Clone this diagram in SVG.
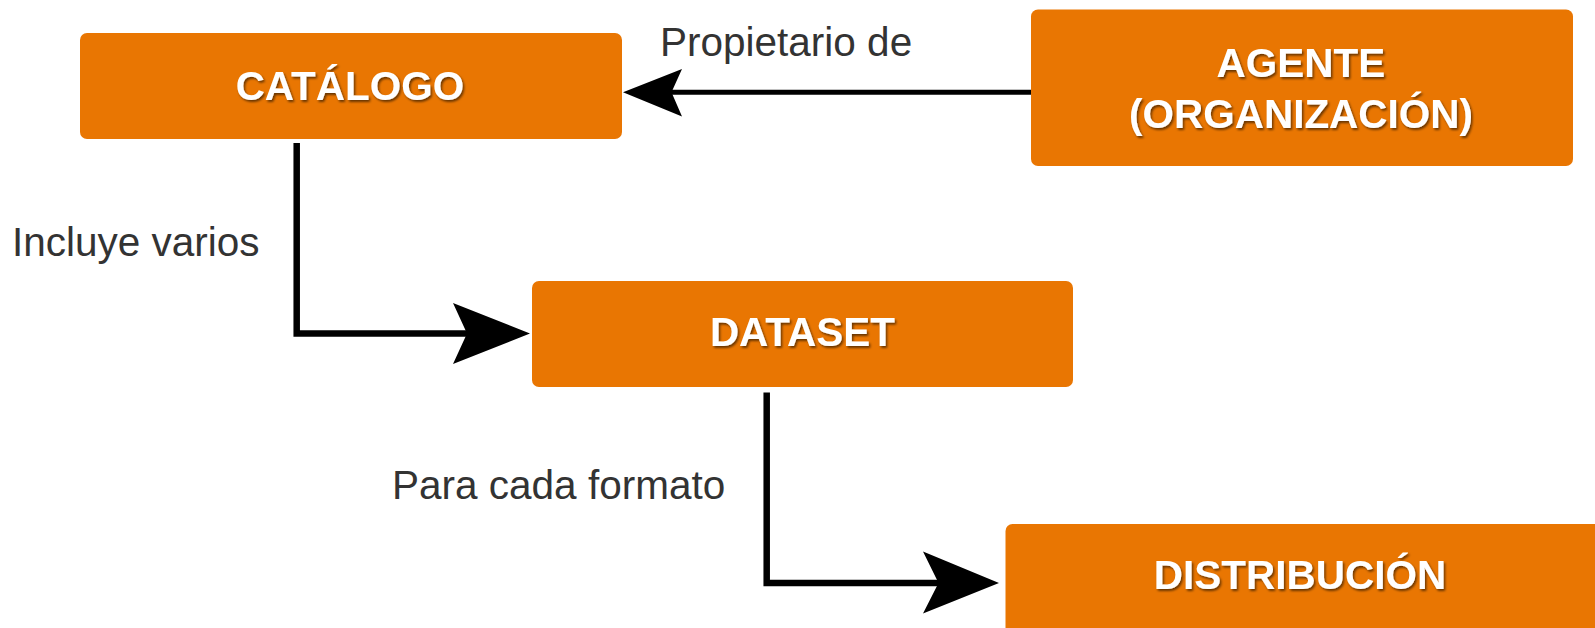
<svg xmlns="http://www.w3.org/2000/svg" width="1595" height="628" viewBox="0 0 1595 628">
  <defs>
    <filter id="tshadow" x="-10%" y="-30%" width="120%" height="160%">
      <feDropShadow dx="1.5" dy="2" stdDeviation="1.2" flood-color="#000" flood-opacity="0.55"/>
    </filter>
  </defs>
  <style>
    .box { fill: #e97602; }
    .title { font-family: "Liberation Sans", Arial, sans-serif; font-weight: bold; font-size: 40.5px; fill: #ffffff; text-anchor: middle; filter: url(#tshadow); }
    .lbl { font-family: "Liberation Sans", Arial, sans-serif; font-size: 40.5px; fill: #333333; }
    .edge { fill: none; stroke: #000; stroke-linejoin: miter; }
    .head { fill: #000; }
  </style>
  <rect width="1595" height="628" fill="#ffffff"/>

  <g id="connectors">
    <path class="edge" d="M1031 92.3 L668 92.3" stroke-width="5"/>
    <polygon class="head" points="623,92.3 682,69 671.5,92.3 682,116.5"/>
    <text class="lbl" x="660" y="56">Propietario de</text>

    <path class="edge" d="M296.7 143 L296.7 333.5 L470 333.5" stroke-width="6.5"/>
    <polygon class="head" points="530,333.5 453,303 467,333.5 453,364"/>
    <text class="lbl" x="12" y="256">Incluye varios</text>

    <path class="edge" d="M766.7 392.5 L766.7 583 L942 583" stroke-width="6.5"/>
    <polygon class="head" points="999,583 923,551.5 938.5,583 923,613.5"/>
    <text class="lbl" x="392" y="498.5">Para cada formato</text>
  </g>

  <g id="catalogo">
    <rect class="box" x="80" y="33" width="542" height="106" rx="7"/>
    <text class="title" x="350" y="99.5">CATÁLOGO</text>
  </g>

  <g id="agente">
    <rect class="box" x="1031" y="9.5" width="542" height="156.5" rx="7"/>
    <text class="title" x="1301" y="77">AGENTE</text>
    <text class="title" x="1301" y="128">(ORGANIZACIÓN)</text>
  </g>

  <g id="dataset">
    <rect class="box" x="532" y="281" width="541" height="106" rx="7"/>
    <text class="title" x="802.5" y="346">DATASET</text>
  </g>

  <g id="distribucion">
    <rect class="box" x="1005.5" y="524" width="600" height="115" rx="7"/>
    <text class="title" x="1300" y="589">DISTRIBUCIÓN</text>
  </g>
</svg>
